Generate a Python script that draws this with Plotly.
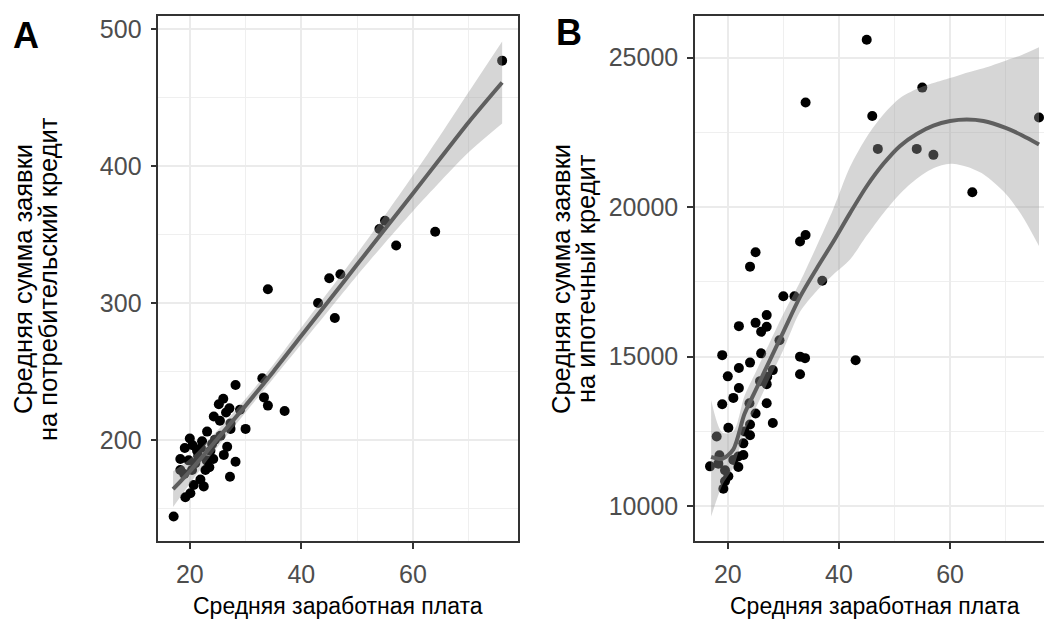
import plotly.graph_objects as go

# ---------------- Panel A data ----------------
wage_a = [76, 64, 57, 55, 54, 47, 45, 43, 46, 34, 33, 34, 37, 33.3, 30, 28.2, 29, 26, 25.2, 27.1,
          24.3, 25.4, 27.3, 23.1, 20, 22.2, 19.1, 21.3, 23.7, 26.7, 26.1, 24.2, 28.2, 18.3, 19.8,
          18.3, 20.4, 22.8, 21.9, 27.2, 20.7, 22.5, 19.2, 20.1, 17.1, 21, 23, 24.5, 25.5, 22,
          20.5, 24, 19, 21.5, 23.5, 27.3, 26.5]
consumer = [477, 352, 342, 360, 354, 321, 318, 300, 289, 310, 245, 225, 221, 231, 208, 240, 222, 230, 226, 223,
            217, 214, 208, 206, 201, 199, 194, 192, 192, 195, 189, 186, 184, 186, 185,
            178, 178, 178, 171, 173, 167, 166, 158, 161, 144, 183, 185, 200, 203, 194,
            196, 197, 175, 188, 180, 212, 220]

fit_a_x = [17, 20, 25, 30, 35, 40, 45, 50, 55, 60, 65, 70, 76]
fit_a_y = [164, 177, 201, 225, 250, 276, 302, 328, 354, 380, 406, 432, 461]
fit_a_lo = [151, 168, 195, 220, 245, 270, 295, 320, 344, 367, 389, 410, 431]
fit_a_hi = [177, 186, 207, 230, 255, 282, 309, 336, 364, 393, 423, 454, 491]

# ---------------- Panel B data ----------------
wage_b = [45, 34, 55, 46, 47, 54, 57, 64, 76, 34, 33, 25, 24, 37, 30, 32, 43, 22, 25, 27,
          26, 27, 19, 33, 33.9, 22, 24, 20, 33, 28.1, 27.1, 25.8, 22, 21, 19, 23.9, 27, 25,
          28.1, 24, 20.1, 24, 18, 22.8, 22.8, 21, 16.8, 21.9, 20.1, 19.5, 19.2, 18.3, 29.3,
          27, 21.9, 26, 18.5, 23, 19.5]
mortgage = [25600, 23500, 24000, 23050, 21950, 21950, 21750, 20500, 23000, 19070, 18850, 18490, 18010,
            17540, 17020, 17020, 14880, 16020, 16130, 16390, 15830, 16000, 15050, 15000, 14950, 14620,
            14800, 14340, 14410, 14550, 14330, 14180, 13950, 13620, 13410, 13440, 13440, 13100, 12780,
            12730, 12620, 12370, 12330, 12100, 11710, 11540, 11330, 11310, 11000, 10830, 10580, 11420,
            15550, 14080, 11660, 15110, 11700, 12500, 11200]

fit_b_x = [17, 19, 21, 23, 25, 27, 30, 33, 36, 39, 42, 45, 48, 51, 54, 57, 60, 63, 66, 70, 73, 76]
fit_b_y = [11650, 11580, 11900, 13080, 13870, 14660, 15830, 17000, 17950, 18850, 19800, 20700, 21450,
           22050, 22450, 22730, 22880, 22930, 22880, 22650, 22400, 22100]
fit_b_lo = [9650, 10700, 11300, 12480, 13270, 14060, 15230, 16500, 17200, 17750, 18250, 19050, 19800,
            20450, 20950, 21300, 21450, 21350, 21100, 20450, 19700, 18700]
fit_b_hi = [13550, 12460, 12500, 13680, 14470, 15260, 16430, 17500, 18700, 19950, 21350, 22350, 23100,
            23650, 23950, 24150, 24320, 24500, 24650, 24900, 25100, 25350]

x_ticks = [20, 40, 60]
ya_ticks = [200, 300, 400, 500]
yb_ticks = [10000, 15000, 20000, 25000]

FONT = "Liberation Sans, Arial, sans-serif"
W, H = 1044, 619
POINT = "#000000"
LINE = "#5f5f5f"
RIBBON = "rgba(153,153,153,0.4)"

fig = go.Figure()


def add_panel(xs, ys, fx, fy, flo, fhi, xa, ya):
    fig.add_trace(go.Scatter(x=xs, y=ys, mode="markers", xaxis=xa, yaxis=ya,
                             marker=dict(color=POINT, size=10, line=dict(width=0)),
                             showlegend=False, hoverinfo="skip"))
    fig.add_trace(go.Scatter(x=fx, y=flo, mode="lines", xaxis=xa, yaxis=ya,
                             line=dict(color="rgba(0,0,0,0)", width=0, shape="spline", smoothing=0.8),
                             showlegend=False, hoverinfo="skip"))
    fig.add_trace(go.Scatter(x=fx, y=fhi, mode="lines", xaxis=xa, yaxis=ya, fill="tonexty",
                             fillcolor=RIBBON,
                             line=dict(color="rgba(0,0,0,0)", width=0, shape="spline", smoothing=0.8),
                             showlegend=False, hoverinfo="skip"))
    fig.add_trace(go.Scatter(x=fx, y=fy, mode="lines", xaxis=xa, yaxis=ya,
                             line=dict(color=LINE, width=4, shape="spline", smoothing=0.8),
                             showlegend=False, hoverinfo="skip"))


add_panel(wage_a, consumer, fit_a_x, fit_a_y, fit_a_lo, fit_a_hi, "x", "y")
add_panel(wage_b, mortgage, fit_b_x, fit_b_y, fit_b_lo, fit_b_hi, "x2", "y2")

y_dom = [1 - 541 / H, 1 - 16 / H]
tickfont = dict(family=FONT, size=25, color="#4D4D4D")
common = dict(showgrid=True, gridcolor="#EBEBEB", gridwidth=2, zeroline=False,
              ticks="outside", ticklen=6, tickwidth=1.5, tickcolor="#333333",
              showline=True, linecolor="#333333", linewidth=1.5, tickfont=tickfont,
              ticklabelstandoff=4)
minor_grid = dict(showgrid=True, gridcolor="#EFEFEF", gridwidth=1, ticks="")

fig.update_layout(
    width=W, height=H, margin=dict(l=0, r=0, t=0, b=0),
    paper_bgcolor="white", plot_bgcolor="white",
    xaxis=dict(domain=[158.3 / W, 518.3 / W], range=[14.35, 78.9], tickvals=x_ticks,
               ticktext=[str(v) for v in x_ticks], anchor="y", mirror=True,
               minor=dict(dtick=10, tick0=0, **minor_grid), **common),
    yaxis=dict(domain=y_dom, range=[126.1, 509.6], tickvals=ya_ticks,
               ticktext=[str(v) for v in ya_ticks], anchor="x", mirror=True,
               minor=dict(dtick=50, tick0=0, **minor_grid), **common),
    xaxis2=dict(domain=[695 / W, 1.0], range=[14.1, 76.9], tickvals=x_ticks,
                ticktext=[str(v) for v in x_ticks], anchor="y2", mirror=True,
                minor=dict(dtick=10, tick0=0, **minor_grid), **common),
    yaxis2=dict(domain=y_dom, range=[8833, 26395], tickvals=yb_ticks,
                ticktext=[str(v) for v in yb_ticks], anchor="x2", mirror=False,
                minor=dict(dtick=2500, tick0=0, **minor_grid), **common),
)

ann = []
title_font = dict(family=FONT, size=23, color="#000000")
ytitle_font = dict(family=FONT, size=25.5, color="#000000")
# x-axis titles
for cx in [(158.3 + 518.3) / 2, (695 + 1055) / 2]:
    ann.append(dict(x=cx / W, y=1 - 606 / H, xref="paper", yref="paper", text="Средняя заработная плата",
                    showarrow=False, font=title_font, xanchor="center", yanchor="middle"))
# y-axis titles (two lines each)
ycen = 1 - 279 / H
for px, txt in [(23, "Средняя сумма заявки"), (48, "на потребительский кредит"),
                (561, "Средняя сумма заявки"), (586, "на ипотечный кредит")]:
    ann.append(dict(x=px / W, y=ycen, xref="paper", yref="paper", text=txt, textangle=-90,
                    showarrow=False, font=ytitle_font, xanchor="center", yanchor="middle"))
# panel tags
for px, py, t in [(26, 36, "A"), (569, 32, "B")]:
    ann.append(dict(x=px / W, y=1 - py / H, xref="paper", yref="paper", text="<b>%s</b>" % t,
                    showarrow=False, font=dict(family=FONT, size=36, color="#000000"),
                    xanchor="center", yanchor="middle"))
fig.update_layout(annotations=ann)

fig.write_html("out.html")
